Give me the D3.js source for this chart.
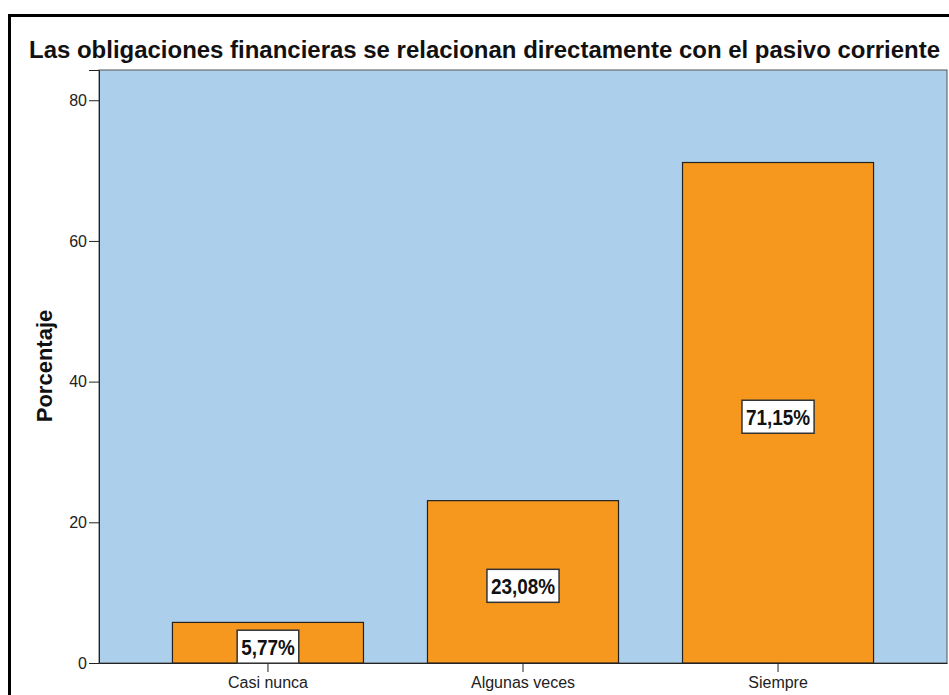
<html>
<head>
<meta charset="utf-8">
<title>Porcentaje</title>
<style>
  body { margin: 0; background: #fff; }
  text { font-family: "Liberation Sans", Arial, sans-serif; }
</style>
</head>
<body>
<script src="https://cdn.jsdelivr.net/npm/d3@7"></script>
<script>
  var categories = ["Casi nunca", "Algunas veces", "Siempre"];
  var values = [5.77, 23.08, 71.15];
  var valueLabels = ["5,77%", "23,08%", "71,15%"];
  var yTicks = [0, 20, 40, 60, 80];
  var title = "Las obligaciones financieras se relacionan directamente con el pasivo corriente";

  var width = 949, height = 695;
  var plot = {left: 99, right: 947, top: 70, bottom: 663};

  var svg = d3.select("body").append("svg")
      .attr("width", width)
      .attr("height", height);

  // outer frame
  svg.append("rect")
      .attr("x", 9.5).attr("y", 15.5)
      .attr("width", 960).attr("height", 700)
      .attr("fill", "#fff")
      .attr("stroke", "#000")
      .attr("stroke-width", 3);

  var x = d3.scaleBand()
      .domain(categories)
      .range([plot.left, plot.right])
      .paddingInner(0.251)
      .paddingOuter(0.288);

  var y = d3.scaleLinear()
      .domain([0, 84.3])
      .range([plot.bottom, plot.top]);

  // plot background
  svg.append("rect")
      .attr("x", plot.left).attr("y", plot.top)
      .attr("width", plot.right - plot.left)
      .attr("height", plot.bottom - plot.top)
      .attr("fill", "#accfec")
      .attr("stroke", "#555")
      .attr("stroke-width", 1);

  // title
  svg.append("text")
      .attr("x", 29).attr("y", 58)
      .attr("font-size", 23)
      .attr("font-weight", "bold")
      .attr("fill", "#111")
      .attr("textLength", 911)
      .attr("lengthAdjust", "spacingAndGlyphs")
      .text(title);

  // bars
  svg.selectAll(".bar")
      .data(values)
      .enter()
      .append("rect")
      .attr("class", "bar")
      .attr("x", function(d, i) { return x(categories[i]); })
      .attr("y", function(d) { return y(d); })
      .attr("width", x.bandwidth())
      .attr("height", function(d) { return y(0) - y(d); })
      .attr("fill", "#f7981e")
      .attr("stroke", "#222")
      .attr("stroke-width", 1.2);

  // y axis
  var yAxis = d3.axisLeft(y).tickValues(yTicks).tickSize(10).tickPadding(2);
  var gy = svg.append("g")
      .attr("transform", "translate(" + plot.left + ",0)")
      .call(yAxis);
  gy.select(".domain").attr("stroke", "#222");
  gy.selectAll(".tick line").attr("stroke", "#222");
  gy.selectAll(".tick text")
      .attr("font-size", 16)
      .attr("fill", "#222")
      .style("font-family", "'Liberation Sans', Arial, sans-serif");

  // x axis
  var xAxis = d3.axisBottom(x).tickSize(9).tickSizeOuter(0).tickPadding(5);
  var gx = svg.append("g")
      .attr("transform", "translate(0," + plot.bottom + ")")
      .call(xAxis);
  gx.select(".domain").attr("stroke", "#222");
  gx.selectAll(".tick line").attr("stroke", "#222");
  gx.selectAll(".tick text")
      .attr("font-size", 16)
      .attr("fill", "#222")
      .style("font-family", "'Liberation Sans', Arial, sans-serif");

  // y axis title
  svg.append("text")
      .attr("transform", "translate(52,366) rotate(-90)")
      .attr("text-anchor", "middle")
      .attr("font-size", 22)
      .attr("font-weight", "bold")
      .attr("fill", "#111")
      .text("Porcentaje");

  // value labels
  var sx = 0.86;
  var labels = svg.selectAll(".lbl")
      .data(values)
      .enter()
      .append("g")
      .attr("class", "lbl")
      .attr("transform", function(d, i) {
        return "translate(" + (x(categories[i]) + x.bandwidth() / 2) + "," + ((y(d) + y(0)) / 2 + 4) + ")";
      });
  labels.append("text")
      .attr("text-anchor", "middle")
      .attr("dy", "0.36em")
      .attr("transform", "scale(" + sx + ",1)")
      .attr("font-size", 22)
      .attr("font-weight", "bold")
      .attr("fill", "#111")
      .text(function(d, i) { return valueLabels[i]; });
  labels.insert("rect", "text")
      .each(function() {
        var bb = this.parentNode.querySelector("text").getBBox();
        var w = bb.width * sx + 8;
        d3.select(this)
            .attr("x", -w / 2).attr("y", -16.5)
            .attr("width", w).attr("height", 33);
      })
      .attr("fill", "#fff")
      .attr("stroke", "#333")
      .attr("stroke-width", 1.5);
</script>
</body>
</html>
